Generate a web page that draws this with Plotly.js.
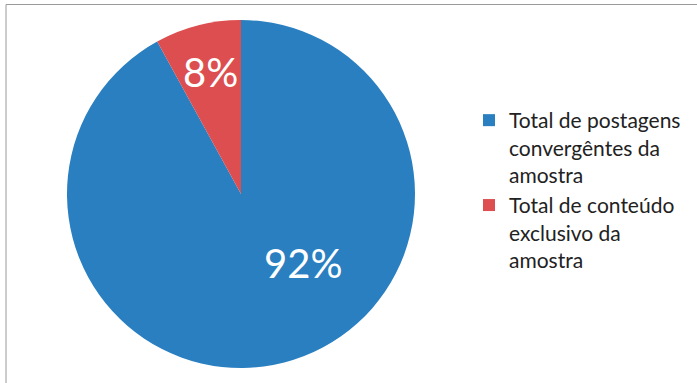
<!DOCTYPE html>
<html><head><meta charset="utf-8">
<script src="https://cdn.plot.ly/plotly-3.0.1.min.js"></script>
<style>html,body{margin:0;padding:0;background:#fff}#chart{width:697px;height:383px}</style>
</head><body><div id="chart"></div>
<script>
var labels = ["Total de postagens<br>convergêntes da<br>amostra", "Total de conteúdo<br>exclusivo da<br>amostra"];
var values = [92, 8];
var colors = ["#2a7fc1", "#dc4e4f"];

var W = 697, H = 383;
var total = values.reduce(function (a, b) { return a + b; }, 0);
var pctText = values.map(function (v) { return Math.round(v / total * 100) + "%"; });
// label anchor spots (paper fractions), placed like the original chart's data labels
var labelPos = [[303 / W, 1 - 263 / H], [210 / W, 1 - 72 / H]];

var trace = {
  type: "pie",
  labels: labels,
  values: values,
  sort: false,
  direction: "clockwise",
  rotation: 0,
  marker: {colors: colors, line: {width: 0}},
  textinfo: "none",
  hoverinfo: "none",
  domain: {x: [(241 - 174) / W, (241 + 174) / W], y: [1 - 368 / H, 1 - 20 / H]}
};
var layout = {
  width: W, height: H,
  margin: {l: 0, r: 0, t: 0, b: 0},
  paper_bgcolor: "#ffffff",
  showlegend: true,
  legend: {
    x: 469 / W, xanchor: "left", y: 1 - 100 / H, yanchor: "top",
    valign: "top",
    font: {size: 21, color: "#222222", family: "Lato, 'Open Sans', sans-serif"},
    itemwidth: 30, bgcolor: "rgba(0,0,0,0)"
  },
  annotations: pctText.map(function (t, i) {
    return {text: t, xref: "paper", yref: "paper", x: labelPos[i][0], y: labelPos[i][1],
      xanchor: "center", yanchor: "middle", showarrow: false,
      font: {size: 40, color: "#ffffff", family: "Lato, 'Open Sans', sans-serif"}};
  }),
  shapes: [
    {type: "line", xref: "paper", yref: "paper", x0: 6 / W, x1: 1, y0: 1 - 4.5 / H, y1: 1 - 4.5 / H, line: {color: "#9a9a9a", width: 1}},
    {type: "line", xref: "paper", yref: "paper", x0: 6 / W, x1: 6 / W, y0: 0, y1: 1 - 4.5 / H, line: {color: "#9a9a9a", width: 1}}
  ]
};
Plotly.newPlot("chart", [trace], layout, {displayModeBar: false, staticPlot: true});
</script></body></html>
